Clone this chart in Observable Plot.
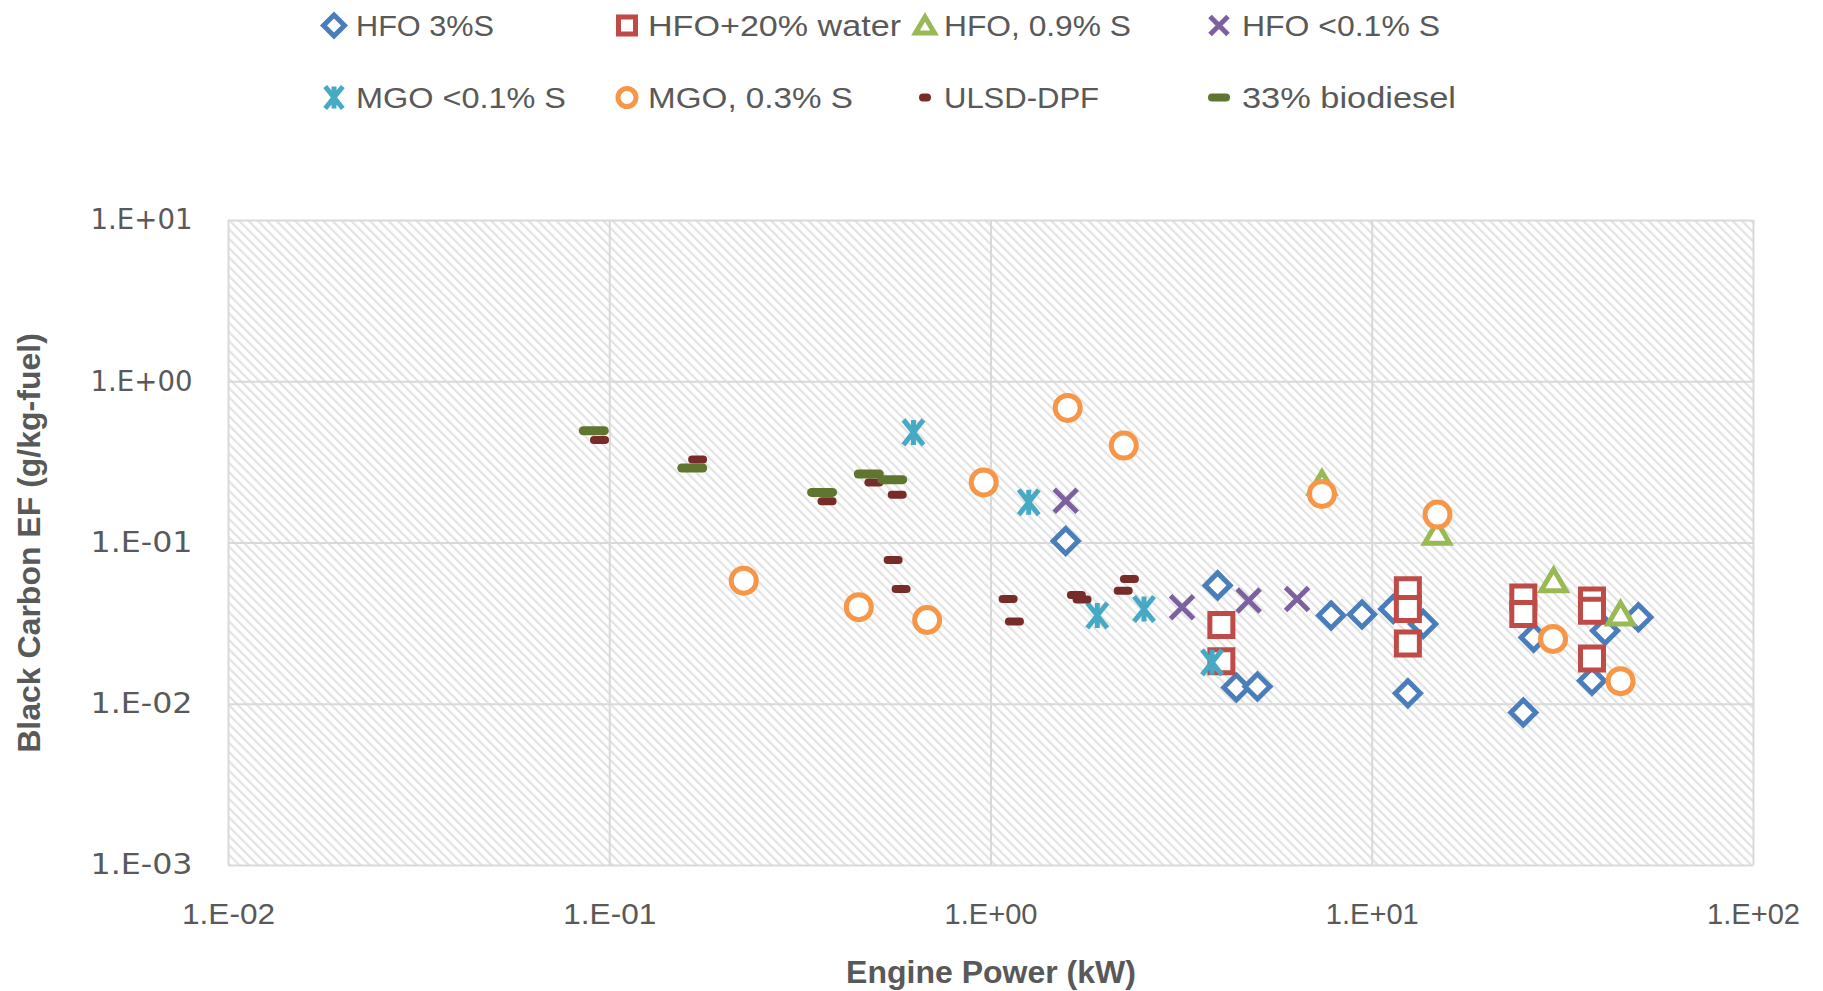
<!DOCTYPE html>
<html>
<head>
<meta charset="utf-8">
<script src="https://cdn.jsdelivr.net/npm/d3@7"></script>
<script src="https://cdn.jsdelivr.net/npm/@observablehq/plot@0.6"></script>
<style>
  html, body { margin: 0; padding: 0; background: #fff; }
  #legend, #chart svg { display: block; }
</style>
</head>
<body>
<svg id="legend" width="1823" height="170"></svg>
<div id="chart"></div>
<script>
// Engine power (kW) and black carbon emission factor (g/kg-fuel), one pair of arrays per fuel
const hfo3sPower = [1.57, 3.93, 4.4, 5.0, 7.8, 9.4, 11.35, 12.4, 13.6, 24.9, 26.5, 37.7, 40.8, 49.9];
const hfo3sBC    = [0.103, 0.0546, 0.0127, 0.0129, 0.0355, 0.036, 0.039, 0.0117, 0.0315, 0.0089, 0.0259, 0.014, 0.0286, 0.0346];

const hfoWaterPower = [4.02, 4.02, 12.4, 12.4, 12.4, 24.9, 24.9, 37.7, 37.7, 37.7];
const hfoWaterBC    = [0.031, 0.0185, 0.051, 0.039, 0.0238, 0.046, 0.0363, 0.044, 0.038, 0.0192];

const hfo09Power = [7.38, 14.8, 29.9, 44.8];
const hfo09BC    = [0.235, 0.115, 0.0583, 0.0363];

const hfo01Power = [1.57, 3.17, 4.74, 6.35];
const hfo01BC    = [0.183, 0.040, 0.044, 0.045];

const mgo01Power = [0.626, 1.256, 1.90, 2.52, 3.80];
const mgo01BC    = [0.485, 0.179, 0.0355, 0.039, 0.0182];

const mgo03Power = [0.2246, 0.450, 0.680, 0.957, 1.589, 2.23, 7.38, 14.83, 29.8, 44.8];
const mgo03BC    = [0.0584, 0.040, 0.0333, 0.2375, 0.688, 0.402, 0.2015, 0.150, 0.0254, 0.0139];

const ulsdPower = [0.094, 0.170, 0.3715, 0.493, 0.5675, 0.5537, 0.581, 1.109, 1.152, 1.675, 1.733, 2.307, 2.222];
const ulsdBC    = [0.4355, 0.329, 0.1815, 0.2375, 0.1995, 0.0785, 0.0519, 0.045, 0.0326, 0.0476, 0.0446, 0.0598, 0.0506];

const bio33Power = [0.0908, 0.1646, 0.3605, 0.478, 0.5508];
const bio33BC    = [0.4966, 0.2917, 0.206, 0.268, 0.247];

const seriesNames = ["HFO 3%S", "HFO+20% water", "HFO, 0.9% S", "HFO <0.1% S",
                     "MGO <0.1% S", "MGO, 0.3% S", "ULSD-DPF", "33% biodiesel"];

// Axis ticks (decades)
const powerTicks = [0.01, 0.1, 1, 10, 100];
const bcTicks = [0.001, 0.01, 0.1, 1, 10];

const xTitle = "Engine Power (kW)";
const yTitle = "Black Carbon EF (g/kg-fuel)";

// ---- marker shapes (size = area, as Plot passes π r²) ----
const rad = size => Math.sqrt(size / Math.PI);
const diamondSym = {draw(c, s) { const r = rad(s); c.moveTo(0, -r); c.lineTo(r, 0); c.lineTo(0, r); c.lineTo(-r, 0); c.closePath(); }};
const squareSym  = {draw(c, s) { const r = rad(s); c.rect(-r, -r, 2 * r, 2 * r); }};
const triangleSym = {draw(c, s) { const r = rad(s); c.moveTo(0, -0.9 * r); c.lineTo(r, 0.8 * r); c.lineTo(-r, 0.8 * r); c.closePath(); }};
const timesSym   = {draw(c, s) { const r = rad(s); c.moveTo(-r, -r); c.lineTo(r, r); c.moveTo(-r, r); c.lineTo(r, -r); }};
const starSym    = {draw(c, s) { const r = rad(s), w = 0.8 * r; c.moveTo(-w, -r); c.lineTo(w, r); c.moveTo(-w, r); c.lineTo(w, -r); c.moveTo(0, -r); c.lineTo(0, r); }};
const circleSym  = {draw(c, s) { const r = rad(s); c.moveTo(r, 0); c.arc(0, 0, r, 0, 2 * Math.PI); c.closePath(); }};
const dashSym    = {draw(c, s) { const r = rad(s); c.moveTo(-r, 0); c.lineTo(r, 0); }};

const styles = [
  {symbol: diamondSym,  stroke: "#4A7EBB", fill: "#fff", r: 12.5, rl: 10.5, strokeWidth: 5,   lw: 5},
  {symbol: squareSym,   stroke: "#BE4B48", fill: "#fff", r: 11.5, rl: 8.5,  strokeWidth: 5,   lw: 5},
  {symbol: triangleSym, stroke: "#98B954", fill: "#fff", r: 12.5, rl: 9.5,  strokeWidth: 5,   lw: 5},
  {symbol: timesSym,    stroke: "#7D60A0", fill: "none", r: 11.5, rl: 9,    strokeWidth: 5,   lw: 5},
  {symbol: starSym,     stroke: "#46AAC5", fill: "none", r: 12.5, rl: 11,   strokeWidth: 5,   lw: 5},
  {symbol: circleSym,   stroke: "#F79646", fill: "#fff", r: 12.5, rl: 9,    strokeWidth: 5,   lw: 5},
  {symbol: dashSym,     stroke: "#772C2A", fill: "none", r: 5.5,  rl: 2,    strokeWidth: 8,   lw: 8, cap: "round"},
  {symbol: dashSym,     stroke: "#5F7530", fill: "none", r: 10.5, rl: 7,    strokeWidth: 9,   lw: 8, cap: "round"}
];

const powers = [hfo3sPower, hfoWaterPower, hfo09Power, hfo01Power, mgo01Power, mgo03Power, ulsdPower, bio33Power];
const bcs    = [hfo3sBC, hfoWaterBC, hfo09BC, hfo01BC, mgo01BC, mgo03BC, ulsdBC, bio33BC];

const series = seriesNames.map((name, i) => ({
  name,
  rows: powers[i].map((p, j) => ({power: p, bc: bcs[i][j], fuel: name})),
  ...styles[i]
}));

const sci = d => {
  const e = Math.round(Math.log10(d));
  return "1.E" + (e < 0 ? "-" : "+") + String(Math.abs(e)).padStart(2, "0");
};

const textColor = "#595959";

const chart = Plot.plot({
  width: 1823,
  height: 821,
  marginTop: 50,
  marginBottom: 126,
  marginLeft: 228,
  marginRight: 70,
  style: {background: "#fff", color: textColor, fontFamily: "'Liberation Sans', Arial, sans-serif"},
  x: {type: "log", domain: [0.01, 100]},
  y: {type: "log", domain: [0.001, 10]},
  marks: [
    Plot.frame({fill: "url(#bc-hatch)", stroke: "none"}),
    Plot.gridX({ticks: powerTicks, stroke: "#d9d9d9", strokeOpacity: 1, strokeWidth: 2}),
    Plot.gridY({ticks: bcTicks, stroke: "#d9d9d9", strokeOpacity: 1, strokeWidth: 2}),
    Plot.axisX({ticks: powerTicks, tickFormat: sci, tickSize: 0, tickPadding: 37, label: null,
                fontSize: 30, fontFamily: "'Liberation Sans', Arial, sans-serif"}),
    Plot.axisY({ticks: bcTicks, tickFormat: sci, tickSize: 0, tickPadding: 36, label: null,
                fontSize: 28, fontFamily: "'DejaVu Sans', sans-serif"}),
    ...series.map(s => Plot.dot(s.rows, {
      x: "power", y: "bc", symbol: s.symbol, r: s.r,
      stroke: s.stroke, fill: s.fill, strokeWidth: s.strokeWidth,
      strokeLinecap: s.cap || "butt", strokeLinejoin: "miter"
    })),
    Plot.text([xTitle], {text: d => d, frameAnchor: "bottom", dy: 107, lineAnchor: "middle", textAnchor: "middle",
                         fontSize: 32, fontWeight: "bold", fill: textColor, ariaLabel: "x-title"}),
    Plot.text([yTitle], {text: d => d, frameAnchor: "left", dx: -199, rotate: -90, lineAnchor: "middle", textAnchor: "middle",
                         fontSize: 32, fontWeight: "bold", fill: textColor, ariaLabel: "y-title"})
  ]
});

// diagonal hatch for the plotting area
const svg = d3.select(chart);
const pat = svg.insert("defs", ":first-child")
  .append("pattern")
  .attr("id", "bc-hatch")
  .attr("patternUnits", "userSpaceOnUse")
  .attr("width", 6.6).attr("height", 6.6)
  .attr("patternTransform", "rotate(-45)");
pat.append("rect").attr("width", 6.6).attr("height", 6.6).attr("fill", "#fff");
pat.append("line").attr("x1", 1.2).attr("y1", 0).attr("x2", 1.2).attr("y2", 6.6)
  .attr("stroke", "#e0e0e0").attr("stroke-width", 2);

const fit = (sel, len) => sel.attr("textLength", len).attr("lengthAdjust", "spacingAndGlyphs");
fit(svg.selectAll('g[aria-label="x-axis tick label"] text'), 93);
fit(svg.selectAll('g[aria-label="y-axis tick label"] text'), 102);
fit(svg.selectAll('text[aria-label="x-title"], [aria-label="x-title"] text'), 306);
fit(svg.selectAll('text[aria-label="y-title"], [aria-label="y-title"] text'), 433);

document.getElementById("chart").appendChild(chart);

// ---- legend ----
const legendCols = [334, 627, 925, 1219];
const legendText = [356, 648, 944, 1242];
const legendRows = [25.5, 97.5];
const legendWidths = [138, 253, 187, 198, 210, 205, 155, 214];

const lg = d3.select("#legend");
series.forEach((s, i) => {
  const col = i % 4, row = Math.floor(i / 4);
  const cy = legendRows[row];
  lg.append("path")
    .attr("transform", `translate(${legendCols[col]},${cy})`)
    .attr("d", d3.symbol(s.symbol, Math.PI * s.rl * s.rl)())
    .attr("fill", s.fill).attr("stroke", s.stroke)
    .attr("stroke-width", s.lw).attr("stroke-linecap", s.cap || "butt");
  lg.append("text")
    .attr("x", legendText[col]).attr("y", cy + 10.5)
    .attr("font-family", "'Liberation Sans', Arial, sans-serif")
    .attr("font-size", 29).attr("fill", textColor)
    .attr("textLength", legendWidths[i]).attr("lengthAdjust", "spacingAndGlyphs")
    .text(s.name);
});
</script>
</body>
</html>
